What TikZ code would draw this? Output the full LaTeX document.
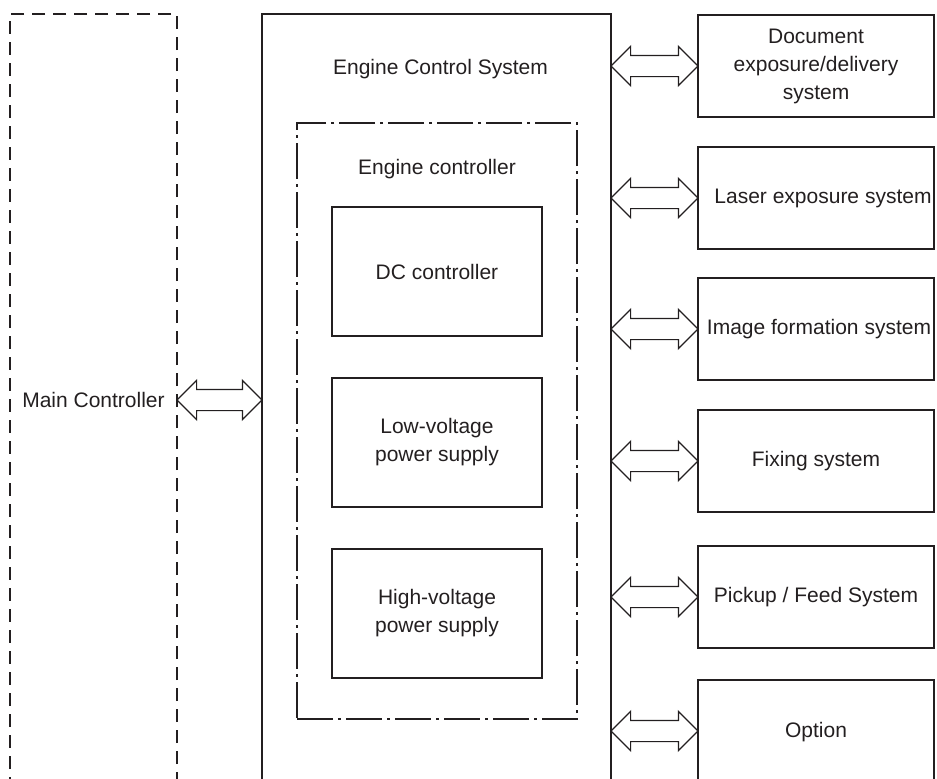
\documentclass[tikz,border=0pt]{standalone}
\usepackage{fontspec}
\setmainfont{Liberation Sans}
\usetikzlibrary{shapes.arrows,calc}
\definecolor{ink}{HTML}{231F20}

\begin{document}
\begin{tikzpicture}[x=1pt,y=-1pt,
            font=\fontsize{21}{28}\selectfont,text=ink,
            box/.style={rectangle,draw=ink,line width=1.2pt,inner sep=0pt,align=center},
            sysbox/.style={box,minimum width=236pt,minimum height=102pt},
            subbox/.style={box,minimum width=210pt,minimum height=129pt},
            dblarrow/.style={double arrow,draw=ink,line width=1.2pt,inner sep=0pt,
                    text height=20pt,text depth=0pt,minimum width=0pt,
                    double arrow head extend=9pt,minimum height=87pt},
        ]
        \useasboundingbox (0,0) rectangle (937,779);
        \clip (0,0) rectangle (937,779);

        % Main controller (open at the bottom)
        \node[box,dash pattern=on 13pt off 8pt,minimum width=167pt,minimum height=772pt]
            (mainctrl) at (93.5,400) {Main Controller};

        % Engine control system
        \node[box,minimum width=349pt,minimum height=800pt] (ecs) at (436.5,414) {};
        \node (ecslbl) at ($(ecs.north)+(4,56)$) {Engine Control System};

        % Engine controller
        \node[box,dash pattern=on 36pt off 5pt on 3pt off 5pt,
            minimum width=280pt,minimum height=596pt] (engctrl) at (437,421) {};
        \node (engctrllbl) at ($(engctrl.north)+(0,47)$) {Engine controller};

        \node[subbox] (dcctrl) at (437,271.5) {DC controller};
        \node[subbox] (lvps) at (437,442.5) {Low-voltage\\power supply};
        \node[subbox] (hvps) at (437,613.5) {High-voltage\\power supply};

        % Systems
        \node[sysbox] (docsys) at (816,66) {Document\\exposure/delivery\\system};
        \node[sysbox] (lasersys) at (816,198) {\hspace*{14pt}Laser exposure system};
        \node[sysbox] (imgsys) at (816,329) {\hspace*{6pt}Image formation system};
        \node[sysbox] (fixsys) at (816,461) {Fixing system};
        \node[sysbox] (pickup) at (816,597) {Pickup / Feed System};
        \node[sysbox,minimum height=104pt] (option) at (816,732) {Option};

        % Links
        \node[dblarrow,minimum height=85pt] (arr-main)
            at ($(mainctrl.east)!0.5!(ecs.west |- mainctrl.east)$) {};
        \foreach \sys in {docsys,lasersys,imgsys,fixsys,pickup} {
                \node[dblarrow] (arr-\sys) at ($(ecs.east |- \sys.west)!0.5!(\sys.west)$) {};
            }
        \node[dblarrow] (arr-option) at ($(ecs.east |- 0,731)!0.5!(option.west |- 0,731)$) {};

    \end{tikzpicture}
\end{document}
